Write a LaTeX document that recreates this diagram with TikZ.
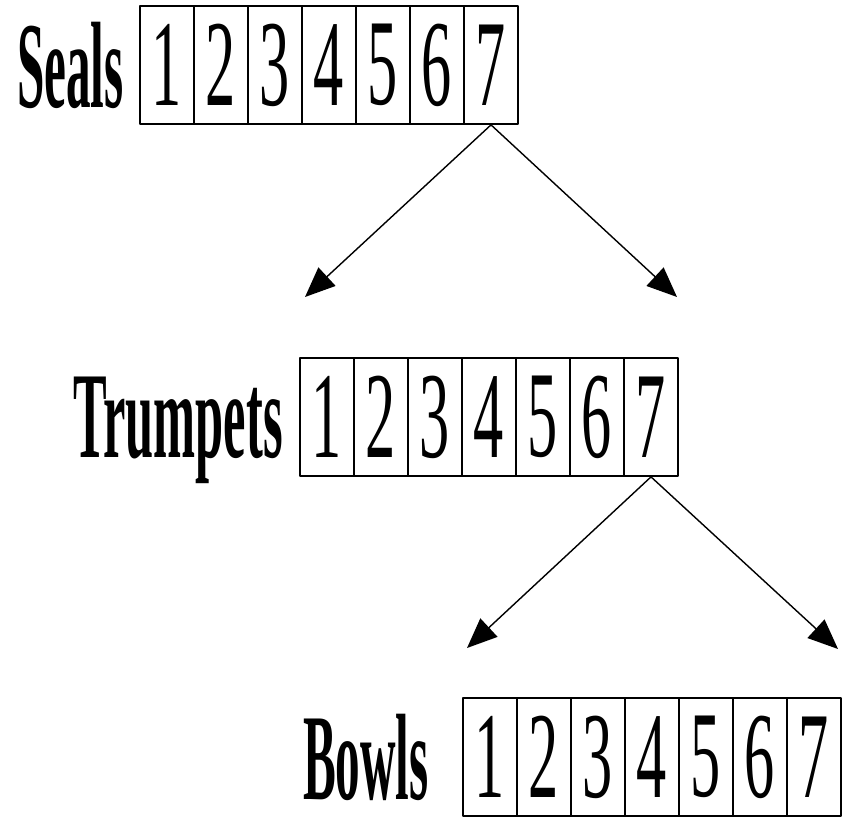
\documentclass[tikz,border=0pt]{standalone}
\usepackage{fontspec}
\setmainfont{Liberation Serif}
\usetikzlibrary{arrows.meta,positioning}
\newcommand{\squeeze}[2]{\scalebox{#1}[1]{#2}}

\begin{document}
\begin{tikzpicture}[x=0.02cm,y=-0.02cm,line cap=round,line join=round,
  cell/.style={draw,line width=1pt,minimum width=1.08cm,minimum height=2.36cm,
    inner sep=0pt,font=\fontsize{70}{76}\selectfont},
  rowlabel/.style={anchor=east,inner sep=0pt,text depth=0pt,
    font=\fontsize{70}{76}\selectfont\bfseries},
  >={Triangle[length=0.6cm,width=0.5cm]}]
\useasboundingbox (0,0) rectangle (844,818);
% the three rows of seven
\foreach \i in {1,...,7}
  \node[cell] (s\i) at ({113+54*\i},65) {\squeeze{0.49}{\i}};
\foreach \i in {1,...,7}
  \node[cell] (t\i) at ({273+54*\i},417) {\squeeze{0.49}{\i}};
\foreach \i in {1,...,7}
  \node[cell] (b\i) at ({436+54*\i},757) {\squeeze{0.49}{\i}};
\node[rowlabel,left=0.3cm of s1] (seals) {\squeeze{0.40}{Seals}};
\node[rowlabel,left=0.32cm of t1] (trumpets) {\squeeze{0.41}{Trumpets}};
\node[rowlabel,left=0.66cm of b1] (bowls) {\squeeze{0.40}{Bowls}};
% the seventh opens out
\coordinate (sl) at (305,297);
\coordinate (sr) at (677,297);
\coordinate (tl) at (467,648);
\coordinate (tr) at (838,649);
\draw[->,line width=0.8pt] (s7.south) -- (sl);
\draw[->,line width=0.8pt] (s7.south) -- (sr);
\draw[->,line width=0.8pt] (t7.south) -- (tl);
\draw[->,line width=0.8pt] (t7.south) -- (tr);
\end{tikzpicture}
\end{document}
